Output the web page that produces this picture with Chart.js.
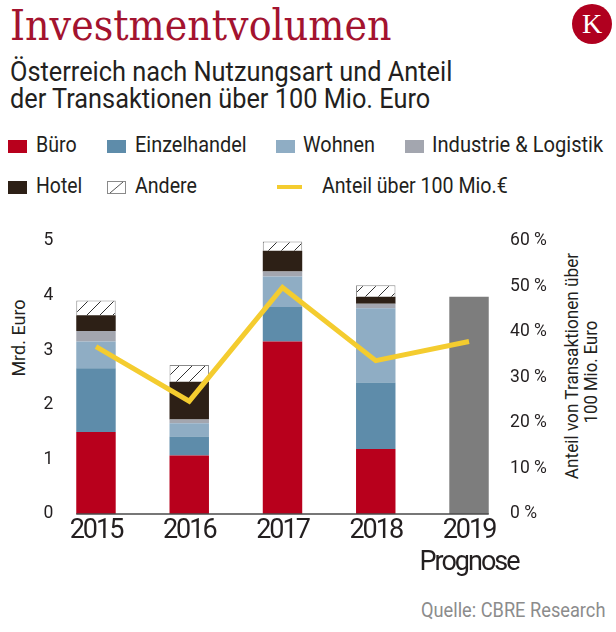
<!DOCTYPE html>
<html><head><meta charset="utf-8">
<script src="https://cdn.jsdelivr.net/npm/chart.js@4/dist/chart.umd.min.js"></script>
<style>
html,body{margin:0;padding:0;background:#fff;}
#page{position:relative;width:616px;height:632px;overflow:hidden;font-family:Roboto,sans-serif;color:#231f20;}
.t{position:absolute;white-space:nowrap;transform-origin:0 50%;}
.r{position:absolute;white-space:nowrap;transform-origin:50% 50%;}
.sq{position:absolute;width:19px;height:13px;}
#chartbox{position:absolute;left:0;top:220px;width:616px;height:370px;}
</style></head><body>
<div id="page">
  <div class="t" data-w="382" style="left:10px;top:1px;font-family:'DejaVu Serif',serif;font-size:42px;line-height:50px;color:#a3132f;">Investmentvolumen</div>
  <div style="position:absolute;left:572px;top:4px;width:40px;height:40px;border-radius:50%;background:#b0001f;color:#fff;font-family:'Liberation Serif',serif;font-size:28px;line-height:40px;text-align:center;">K</div>
  <div class="t" data-w="442" style="left:10px;top:58px;font-size:27px;line-height:28px;">Österreich nach Nutzungsart und Anteil</div>
  <div class="t" data-w="420" style="left:10px;top:85px;font-size:27px;line-height:28px;">der Transaktionen über 100 Mio. Euro</div>

  <div class="sq" style="left:8px;top:140px;background:#b8001c;"></div>
  <div class="t" data-w="41" style="left:36px;top:132px;font-size:21.5px;line-height:26px;">Büro</div>
  <div class="sq" style="left:107px;top:140px;background:#5e8caa;"></div>
  <div class="t" data-w="112" style="left:135px;top:132px;font-size:21.5px;line-height:26px;">Einzelhandel</div>
  <div class="sq" style="left:276px;top:140px;background:#8fadc4;"></div>
  <div class="t" data-w="72" style="left:303px;top:132px;font-size:21.5px;line-height:26px;">Wohnen</div>
  <div class="sq" style="left:405px;top:140px;background:#a3a6af;"></div>
  <div class="t" data-w="171" style="left:432px;top:132px;font-size:21.5px;line-height:26px;">Industrie &amp; Logistik</div>

  <div class="sq" style="left:8px;top:181px;background:#2d2016;"></div>
  <div class="t" data-w="46" style="left:36px;top:173px;font-size:21.5px;line-height:26px;">Hotel</div>
  <svg style="position:absolute;left:107px;top:181px;" width="19" height="13" viewBox="0 0 19 13"><rect x="0.5" y="0.5" width="18" height="12" fill="#fff" stroke="#8a8a8a" stroke-width="1"/><line x1="3" y1="12" x2="16" y2="1" stroke="#555" stroke-width="1"/></svg>
  <div class="t" data-w="62" style="left:135px;top:173px;font-size:21.5px;line-height:26px;">Andere</div>
  <div style="position:absolute;left:277px;top:185px;width:25px;height:4px;background:#f4cc2f;"></div>
  <div class="t" data-w="186" style="left:322px;top:173px;font-size:21.5px;line-height:26px;">Anteil über 100 Mio.€</div>

  <div class="r" data-w="77" data-rot="1" style="left:18.5px;top:338px;font-size:18px;line-height:20px;">Mrd. Euro</div>
  <div class="r" data-w="226" data-rot="1" style="left:572px;top:366px;font-size:19px;line-height:20px;">Anteil von Transaktionen über</div>
  <div class="r" data-w="103" data-rot="1" style="left:591px;top:372px;font-size:19px;line-height:20px;">100 Mio. Euro</div>

  <div id="chartbox"><canvas id="c" width="616" height="370"></canvas></div>

  <div class="t" data-w="184" style="left:421px;top:598px;font-size:20px;line-height:24px;color:#8c8c8c;">Quelle: CBRE Research</div>
</div>
<script>
// ---- data ----
const categories = ['2015', '2016', '2017', '2018', ['2019', 'Prognose']];
const buero        = [1.50, 1.07, 3.16, 1.19, null];
const einzelhandel = [1.17, 0.35, 0.63, 1.22, null];
const wohnen       = [0.49, 0.24, 0.56, 1.36, null];
const industrie    = [0.19, 0.07, 0.09, 0.08, null];
const hotel        = [0.29, 0.69, 0.38, 0.13, null];
const andere       = [0.27, 0.31, 0.17, 0.21, null];
const prognose     = [null, null, null, null, 3.98];
const anteil       = [36.8, 24.8, 49.8, 33.7, 37.9];
const leftMax = 5, leftStep = 1;
const rightMax = 60, rightStep = 10, pctSuffix = ' %';

// fit HTML text widths
document.querySelectorAll('[data-w]').forEach(el => {
  const s = parseFloat(el.dataset.w) / el.offsetWidth;
  el.style.transform = el.dataset.rot
    ? `translate(-50%,-50%) rotate(-90deg) scaleX(${s})`
    : `scaleX(${s})`;
});

// hatch pattern
const pc = document.createElement('canvas');
pc.width = 13; pc.height = 13;
const p = pc.getContext('2d');
p.fillStyle = '#fff'; p.fillRect(0, 0, 13, 13);
p.strokeStyle = '#333'; p.lineWidth = 1;
p.beginPath();
p.moveTo(0, 13); p.lineTo(13, 0);
p.moveTo(-2, 2); p.lineTo(2, -2);
p.moveTo(11, 15); p.lineTo(15, 11);
p.stroke();
const ctx = document.getElementById('c').getContext('2d');
const hatch = ctx.createPattern(pc, 'repeat');

const barCommon = { stack: 's', yAxisID: 'y', barPercentage: 0.423, categoryPercentage: 1, order: 1, borderWidth: 0 };

const baseline = {
  id: 'baseline',
  afterDatasetsDraw(chart) {
    const first = chart.getDatasetMeta(1).data[0];
    const last = chart.getDatasetMeta(7).data[4];
    const y = chart.scales.y.getPixelForValue(0);
    const c = chart.ctx;
    c.save();
    c.strokeStyle = '#4a4a4a'; c.lineWidth = 1.5;
    c.beginPath();
    c.moveTo(first.x - first.width / 2, y);
    c.lineTo(last.x + last.width / 2, y);
    c.stroke();
    c.restore();
  }
};
const tweakScales = {
  id: 'tweakScales',
  afterLayout(chart) {
    ['y', 'y1'].forEach(id => { chart.scales[id]._computeLabelArea = () => undefined; });
    const s = chart.scales.x;
    if (s._narrow) return;
    const orig = s.drawLabels.bind(s);
    s.drawLabels = function (ca) {
      const c = this.ctx; const prev = c.letterSpacing;
      c.letterSpacing = '-2px'; orig(ca); c.letterSpacing = prev;
    };
    s._narrow = true;
  }
};

new Chart(ctx, {
  data: {
    labels: categories,
    datasets: [
      { type: 'line', label: 'Anteil über 100 Mio.€', data: anteil, yAxisID: 'y1', order: 0,
        borderColor: '#f4cc2f', borderWidth: 5, pointRadius: 0, fill: false, tension: 0 },
      { type: 'bar', label: 'Büro', data: buero, backgroundColor: '#b8001c', ...barCommon },
      { type: 'bar', label: 'Einzelhandel', data: einzelhandel, backgroundColor: '#5e8caa', ...barCommon },
      { type: 'bar', label: 'Wohnen', data: wohnen, backgroundColor: '#8fadc4', ...barCommon },
      { type: 'bar', label: 'Industrie & Logistik', data: industrie, backgroundColor: '#a3a6af', ...barCommon },
      { type: 'bar', label: 'Hotel', data: hotel, backgroundColor: '#2d2016', ...barCommon },
      { type: 'bar', label: 'Andere', data: andere, backgroundColor: hatch, ...barCommon,
        borderWidth: 1, borderColor: '#8a8a8a', borderSkipped: 'bottom' },
      { type: 'bar', label: 'Prognose', data: prognose, backgroundColor: '#7d7d7d', ...barCommon }
    ]
  },
  options: {
    responsive: false,
    devicePixelRatio: 1,
    animation: false,
    layout: { padding: { top: 21, left: 0, right: 0, bottom: 0 } },
    plugins: { legend: { display: false }, tooltip: { enabled: false } },
    scales: {
      x: {
        stacked: true,
        grid: { display: false, drawTicks: false },
        border: { display: false },
        ticks: { color: '#231f20', font: { family: 'Roboto', size: 27 }, padding: 1, maxRotation: 0, autoSkip: false },
        afterFit(s) { s.height = 76; }
      },
      y: {
        stacked: true, position: 'left', min: 0, max: leftMax,
        grid: { display: false, drawTicks: false },
        border: { display: false },
        ticks: { stepSize: leftStep, color: '#231f20', font: { family: 'Roboto', size: 17.5 }, padding: -4 },
        afterFit(s) { s.width = 49.35; }
      },
      y1: {
        position: 'right', min: 0, max: rightMax,
        grid: { display: false, drawTicks: false },
        border: { display: false },
        ticks: { stepSize: rightStep, color: '#231f20', font: { family: 'Roboto', size: 17.5 }, padding: -5.6,
                 callback: v => v + pctSuffix },
        afterFit(s) { s.width = 100.35; }
      }
    }
  },
  plugins: [baseline, tweakScales]
});
</script>
</body></html>
